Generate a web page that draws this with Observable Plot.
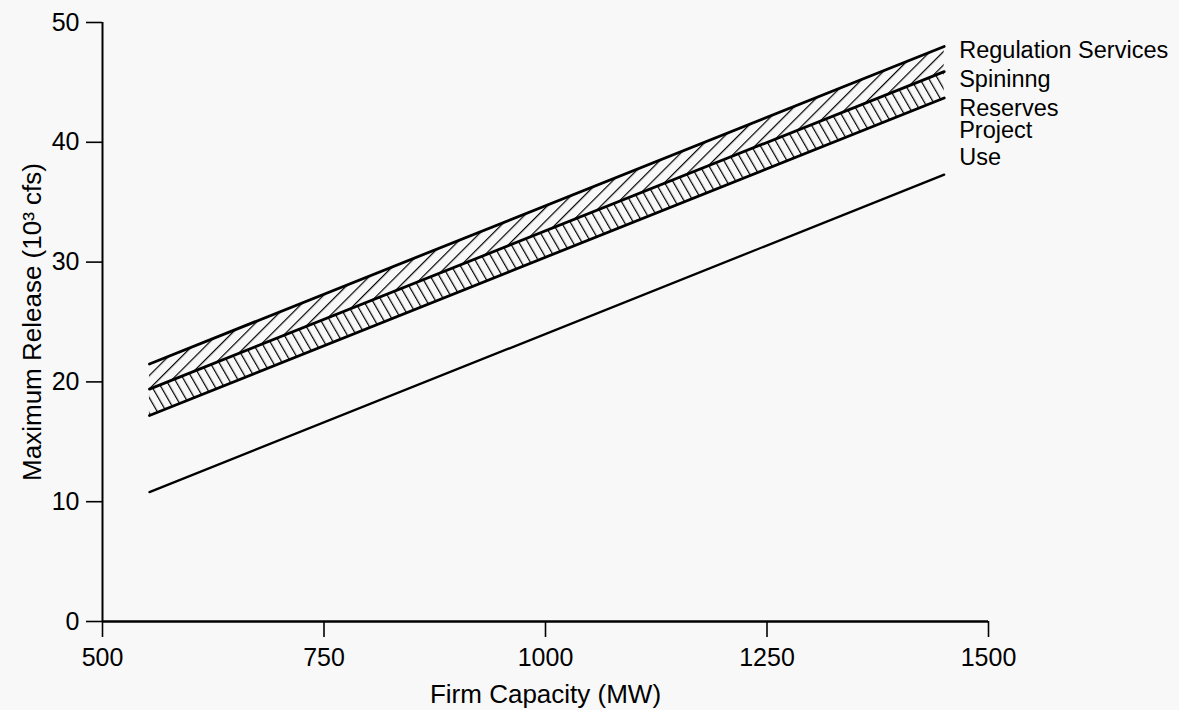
<!DOCTYPE html>
<html>
<head>
<meta charset="utf-8">
<script src="https://cdn.jsdelivr.net/npm/d3@7"></script>
<script src="https://cdn.jsdelivr.net/npm/@observablehq/plot@0.6"></script>
<style>
  html, body { margin: 0; padding: 0; background: #f8f8f8; }
  svg { font-family: "Liberation Sans", Arial, sans-serif; }
</style>
</head>
<body>
<div id="chart"></div>
<script>
// Firm capacity (MW) at the ends of each line
const capacity = [553, 1450];
// Maximum release (10^3 cfs)
const regulationTop = [21.5, 48.0];
const spinningTop = [19.4, 45.9];
const reservesTop = [17.2, 43.7];
const projectUse = [10.8, 37.3];

const xTicks = [500, 750, 1000, 1250, 1500];
const yTicks = [0, 10, 20, 30, 40, 50];

const labelNames = ["Regulation Services", "Spininng", "Reserves", "Project", "Use"];
const labelValues = [47.66, 45.24, 42.85, 40.95, 38.73];

const xTitle = "Firm Capacity (MW)";
const yTitle = "Maximum Release (10³ cfs)";

const rows = capacity.map((c, i) => ({
  x: c, reg: regulationTop[i], spin: spinningTop[i], res: reservesTop[i], use: projectUse[i]
}));
const labels = labelNames.map((t, i) => ({ t, y: labelValues[i] }));

const chart = Plot.plot({
  width: 1179,
  height: 710,
  marginLeft: 102,
  marginRight: 191,
  marginTop: 22,
  marginBottom: 89,
  style: { background: "#f8f8f8", fontSize: "24px", fontFamily: "'Liberation Sans', Arial, sans-serif", color: "#000" },
  x: { domain: [500, 1500] },
  y: { domain: [0, 50] },
  marks: [
    Plot.areaY(rows, { x: "x", y1: "spin", y2: "reg", fill: "url(#hatchUp)" }),
    Plot.areaY(rows, { x: "x", y1: "res", y2: "spin", fill: "url(#hatchDown)" }),
    Plot.line(rows, { x: "x", y: "reg", stroke: "#000", strokeWidth: 2.8 }),
    Plot.line(rows, { x: "x", y: "spin", stroke: "#000", strokeWidth: 2.8 }),
    Plot.line(rows, { x: "x", y: "res", stroke: "#000", strokeWidth: 2.8 }),
    Plot.line(rows, { x: "x", y: "use", stroke: "#000", strokeWidth: 2.3 }),
    Plot.ruleX([500], { y1: 0, y2: 50, stroke: "#000", strokeWidth: 2 }),
    Plot.ruleY([0], { x1: 500, x2: 1500, stroke: "#000", strokeWidth: 2.6 }),
    Plot.axisX({ ticks: xTicks, tickSize: 16, tickPadding: 11, tickFormat: d => String(d), fontSize: 25,
      label: null, strokeWidth: 1.6 }),
    Plot.axisY({ ticks: yTicks, tickSize: 16, tickPadding: 7, tickFormat: d => String(d), fontSize: 25,
      label: null, strokeWidth: 1.6 }),
    Plot.text([xTitle], { frameAnchor: "bottom", lineAnchor: "bottom", textAnchor: "middle", dy: 81, fontSize: 26, fill: "#000" }),
    Plot.text([yTitle], { frameAnchor: "left", lineAnchor: "bottom", textAnchor: "middle", rotate: -90, dx: -62, fontSize: 26, fill: "#000" }),
    Plot.text(labels, { x: 1450, y: "y", text: "t", dx: 15, textAnchor: "start", fontSize: 23.5, fill: "#000" })
  ]
});

const svgNS = "http://www.w3.org/2000/svg";
const defs = document.createElementNS(svgNS, "defs");
defs.innerHTML = `
  <pattern id="hatchUp" patternUnits="userSpaceOnUse" width="9.5" height="40" patternTransform="rotate(45)">
    <line x1="0" y1="0" x2="0" y2="40" stroke="#000" stroke-width="2.4"/>
  </pattern>
  <pattern id="hatchDown" patternUnits="userSpaceOnUse" width="7.8" height="40" patternTransform="rotate(-30)">
    <line x1="0" y1="0" x2="0" y2="40" stroke="#000" stroke-width="2.4"/>
  </pattern>`;
chart.insertBefore(defs, chart.firstChild);
document.getElementById("chart").appendChild(chart);
</script>
</body>
</html>
